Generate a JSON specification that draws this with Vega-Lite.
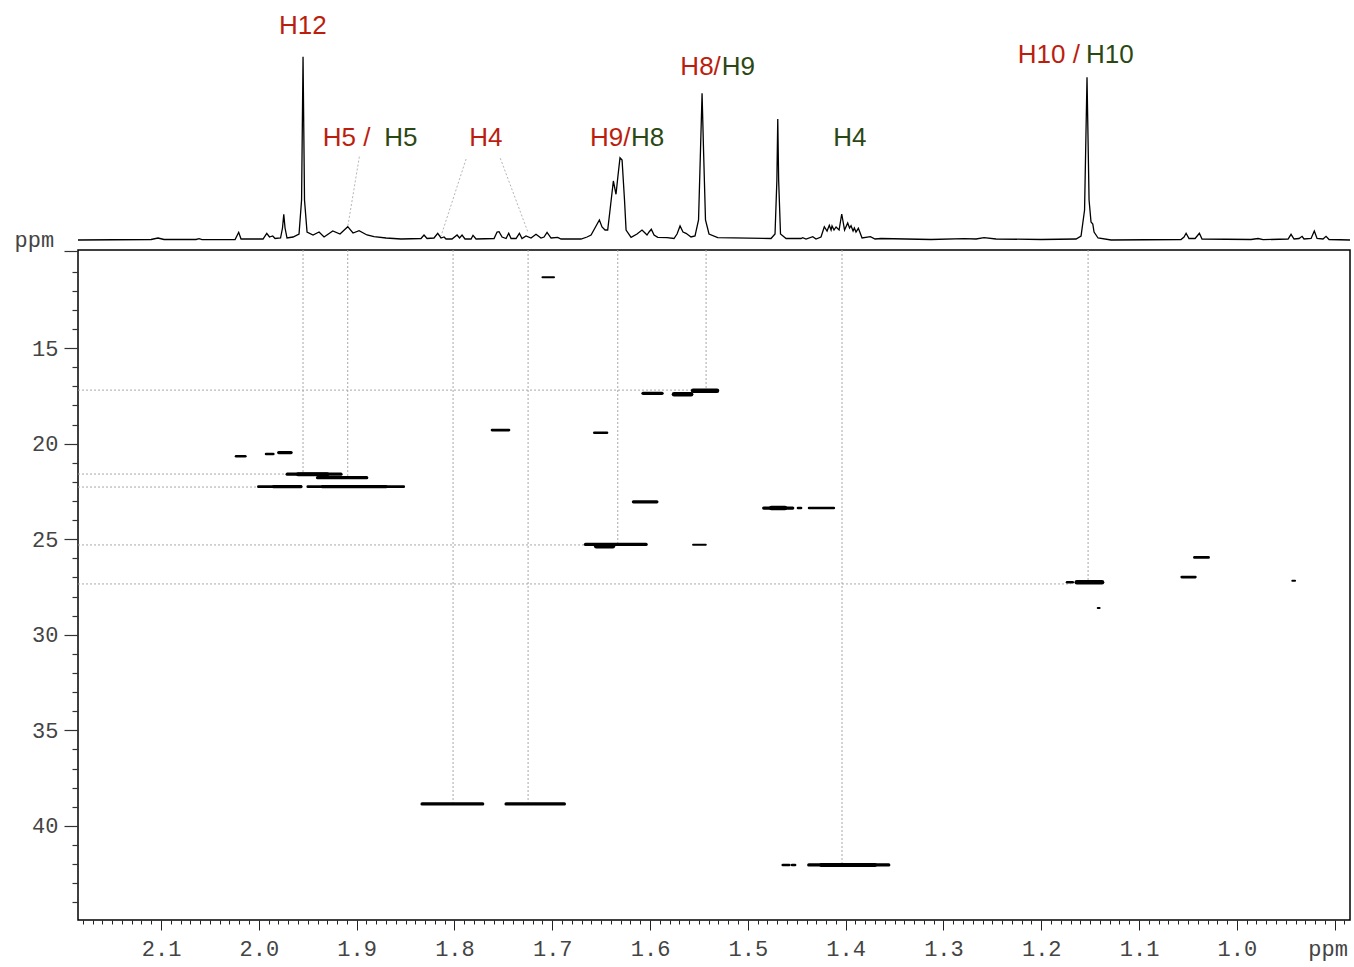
{
  "$schema": "https://vega.github.io/schema/vega-lite/v6.json",
  "padding": {"left": 13, "top": 0, "right": 2, "bottom": 6},
  "bounds": "flush",
  "spacing": 5,
  "background": "white",
  "config": {"font": "Liberation Sans"},
  "datasets": {
    "spectrum": [
      {"x":2.1849,"i":0},{"x":2.1102,"i":0.5},{"x":2.1031,"i":2},{"x":2.0969,"i":0.5},{"x":2.0642,"i":0.5},{"x":2.0611,"i":1.3},{"x":2.0581,"i":0.3},{"x":2.0243,"i":0.5},{"x":2.0206,"i":7.7},{"x":2.0182,"i":1},
      {"x":1.9957,"i":1},{"x":1.9919,"i":6.7},{"x":1.9891,"i":3},{"x":1.9858,"i":4},{"x":1.9834,"i":1.5},{"x":1.9778,"i":2},{"x":1.9758,"i":12},{"x":1.9745,"i":25.7},{"x":1.9732,"i":12},{"x":1.9712,"i":2},
      {"x":1.9650,"i":3},{"x":1.9589,"i":6},{"x":1.9563,"i":40},{"x":1.9548,"i":183.3},{"x":1.9533,"i":40},{"x":1.9507,"i":8},{"x":1.9446,"i":5},{"x":1.9384,"i":8},{"x":1.9333,"i":3},{"x":1.9244,"i":9},
      {"x":1.9170,"i":6},{"x":1.9091,"i":13.3},{"x":1.9037,"i":7},{"x":1.8975,"i":9.3},{"x":1.8894,"i":5},{"x":1.8822,"i":3.3},{"x":1.8699,"i":2},{"x":1.8546,"i":1},{"x":1.8342,"i":1.5},{"x":1.8311,"i":5},
      {"x":1.8280,"i":1.5},{"x":1.8209,"i":2},{"x":1.8171,"i":6.7},{"x":1.8137,"i":2},{"x":1.8106,"i":3},{"x":1.8086,"i":1},{"x":1.8025,"i":1},{"x":1.7973,"i":5},{"x":1.7948,"i":2},{"x":1.7922,"i":5},
      {"x":1.7892,"i":1},{"x":1.7830,"i":1},{"x":1.7810,"i":4.7},{"x":1.7779,"i":1},{"x":1.7595,"i":1.5},{"x":1.7564,"i":8},{"x":1.7544,"i":8.3},{"x":1.7513,"i":3},{"x":1.7472,"i":1.5},{"x":1.7445,"i":6.7},
      {"x":1.7421,"i":1.5},{"x":1.7370,"i":1.5},{"x":1.7336,"i":6.7},{"x":1.7309,"i":1.5},{"x":1.7268,"i":4},{"x":1.7217,"i":2},{"x":1.7166,"i":5.7},{"x":1.7115,"i":2},{"x":1.7084,"i":3},{"x":1.7053,"i":7.7},
      {"x":1.7012,"i":2},{"x":1.6944,"i":2.7},{"x":1.6910,"i":1},{"x":1.6706,"i":1},{"x":1.6644,"i":3},{"x":1.6603,"i":5},{"x":1.6552,"i":14},{"x":1.6518,"i":20},{"x":1.6491,"i":13},{"x":1.6460,"i":10},
      {"x":1.6433,"i":10},{"x":1.6409,"i":30},{"x":1.6375,"i":59},{"x":1.6348,"i":45.7},{"x":1.6327,"i":65},{"x":1.6307,"i":82.3},{"x":1.6286,"i":80},{"x":1.6261,"i":40},{"x":1.6245,"i":10},{"x":1.6194,"i":2.7},
      {"x":1.6133,"i":6},{"x":1.6082,"i":10},{"x":1.6051,"i":7},{"x":1.6031,"i":5},{"x":1.6010,"i":8},{"x":1.5987,"i":10.7},{"x":1.5959,"i":5},{"x":1.5921,"i":2.7},{"x":1.5826,"i":2.3},{"x":1.5755,"i":1.5},
      {"x":1.5724,"i":6},{"x":1.5693,"i":14},{"x":1.5663,"i":8},{"x":1.5632,"i":6.7},{"x":1.5581,"i":3},{"x":1.5540,"i":4},{"x":1.5504,"i":20},{"x":1.5484,"i":90},{"x":1.5468,"i":146.7},{"x":1.5453,"i":90},
      {"x":1.5433,"i":20},{"x":1.5397,"i":6},{"x":1.5308,"i":2.3},{"x":1.4763,"i":1.5},{"x":1.4722,"i":6},{"x":1.4703,"i":60},{"x":1.4694,"i":121},{"x":1.4685,"i":60},{"x":1.4666,"i":6},{"x":1.4609,"i":1.5},
      {"x":1.4456,"i":1.5},{"x":1.4439,"i":2.3},{"x":1.4405,"i":1},{"x":1.4336,"i":3.3},{"x":1.4303,"i":1},{"x":1.4252,"i":3},{"x":1.4218,"i":13.3},{"x":1.4190,"i":9},{"x":1.4167,"i":14.7},{"x":1.4149,"i":10},
      {"x":1.4139,"i":14},{"x":1.4119,"i":10},{"x":1.4098,"i":13},{"x":1.4067,"i":10},{"x":1.4040,"i":26},{"x":1.4011,"i":10},{"x":1.3979,"i":17},{"x":1.3960,"i":12},{"x":1.3945,"i":14.3},{"x":1.3924,"i":9},
      {"x":1.3911,"i":12},{"x":1.3894,"i":8},{"x":1.3870,"i":11.7},{"x":1.3832,"i":2},{"x":1.3747,"i":3.3},{"x":1.3699,"i":1},{"x":1.3638,"i":1.5},{"x":1.3127,"i":0.5},{"x":1.2789,"i":1.3},{"x":1.2667,"i":1},
      {"x":1.2585,"i":2.3},{"x":1.2462,"i":1},{"x":1.2002,"i":0.5},{"x":1.1644,"i":1},{"x":1.1593,"i":4},{"x":1.1557,"i":30},{"x":1.1532,"i":162.7},{"x":1.1511,"i":40},{"x":1.1491,"i":18},{"x":1.1473,"i":16},
      {"x":1.1460,"i":8},{"x":1.1419,"i":2},{"x":1.1286,"i":0},{"x":1.0571,"i":0.5},{"x":1.0540,"i":3},{"x":1.0519,"i":6.7},{"x":1.0489,"i":1.5},{"x":1.0427,"i":1.5},{"x":1.0383,"i":6.7},{"x":1.0356,"i":1},
      {"x":0.9855,"i":0.5},{"x":0.9783,"i":1.5},{"x":0.9732,"i":0.3},{"x":0.9476,"i":1},{"x":0.9446,"i":5.7},{"x":0.9415,"i":1},{"x":0.9364,"i":1.5},{"x":0.9333,"i":3.7},{"x":0.9313,"i":1},{"x":0.9241,"i":1.5},
      {"x":0.9208,"i":9},{"x":0.9180,"i":1.5},{"x":0.9119,"i":1},{"x":0.9088,"i":3.7},{"x":0.9057,"i":0.5},{"x":0.8843,"i":0}
    ],
    "labels": [
      {"x":1.9793,"i":206,"label":"H12","s":"r"},
      {"x":1.9347,"i":94.3,"label":"H5 /","s":"r"},
      {"x":1.8717,"i":94.3,"label":"H5","s":"g"},
      {"x":1.7848,"i":94,"label":"H4","s":"r"},
      {"x":1.6613,"i":94,"label":"H9/","s":"r"},
      {"x":1.6194,"i":94,"label":"H8","s":"g"},
      {"x":1.5690,"i":165,"label":"H8/","s":"r"},
      {"x":1.5267,"i":165,"label":"H9","s":"g"},
      {"x":1.4126,"i":94,"label":"H4","s":"g"},
      {"x":1.2240,"i":176.7,"label":"H10 /","s":"r"},
      {"x":1.1542,"i":176.7,"label":"H10","s":"g"}
    ],
    "leaders": [
      {"x1":1.8972,"i1":83.3,"x2":1.9091,"i2":13.3},
      {"x1":1.7881,"i1":81,"x2":1.8137,"i2":4},
      {"x1":1.7531,"i1":81.7,"x2":1.7250,"i2":8.3}
    ],
    "vguides": [
      {"x":1.9548,"c1":9.87,"c2":21.6},
      {"x":1.9091,"c1":9.87,"c2":21.78},
      {"x":1.8014,"c1":9.87,"c2":38.85},
      {"x":1.7247,"c1":9.87,"c2":38.85},
      {"x":1.6330,"c1":9.87,"c2":25.27},
      {"x":1.5427,"c1":9.87,"c2":17.23},
      {"x":1.4037,"c1":9.87,"c2":42.04},
      {"x":1.1521,"c1":9.87,"c2":27.25}
    ],
    "hguides": [
      {"c":17.2,"x1":2.1849,"x2":1.5500},
      {"c":21.59,"x1":2.1849,"x2":1.9710},
      {"c":22.27,"x1":2.1849,"x2":2.0005},
      {"c":25.30,"x1":2.1849,"x2":1.6660},
      {"c":27.34,"x1":2.1849,"x2":1.1700}
    ],
    "peaks": [
      {"x1":1.7100,"x2":1.6982,"c":11.29,"w":1},
      {"x1":1.6072,"x2":1.5877,"c":17.37,"w":2},
      {"x1":1.5755,"x2":1.5580,"c":17.42,"w":3},
      {"x1":1.5560,"x2":1.5315,"c":17.23,"w":3},
      {"x1":1.6570,"x2":1.6440,"c":19.43,"w":1.5},
      {"x1":1.6170,"x2":1.5930,"c":23.04,"w":2},
      {"x1":1.6660,"x2":1.6040,"c":25.27,"w":2},
      {"x1":1.6550,"x2":1.6380,"c":25.37,"w":3},
      {"x1":1.5560,"x2":1.5430,"c":25.29,"w":1},
      {"x1":1.4838,"x2":1.4541,"c":23.37,"w":2},
      {"x1":1.4760,"x2":1.4620,"c":23.37,"w":3},
      {"x1":1.4487,"x2":1.4456,"c":23.37,"w":1.5},
      {"x1":1.4374,"x2":1.4121,"c":23.37,"w":1.5},
      {"x1":2.0233,"x2":2.0138,"c":20.66,"w":1.5},
      {"x1":1.9926,"x2":1.9852,"c":20.54,"w":1.5},
      {"x1":1.9797,"x2":1.9670,"c":20.47,"w":2},
      {"x1":1.9710,"x2":1.9160,"c":21.6,"w":2},
      {"x1":1.9600,"x2":1.9300,"c":21.6,"w":2.5},
      {"x1":1.9400,"x2":1.8897,"c":21.78,"w":2},
      {"x1":2.0005,"x2":1.9569,"c":22.25,"w":1.5},
      {"x1":1.9850,"x2":1.9570,"c":22.25,"w":2},
      {"x1":1.9500,"x2":1.8518,"c":22.25,"w":1.5},
      {"x1":1.9350,"x2":1.8700,"c":22.25,"w":2},
      {"x1":1.7616,"x2":1.7442,"c":19.29,"w":1.5},
      {"x1":1.8331,"x2":1.7711,"c":38.85,"w":2},
      {"x1":1.7472,"x2":1.6876,"c":38.85,"w":2},
      {"x1":1.4643,"x2":1.4576,"c":42.04,"w":1.5},
      {"x1":1.4548,"x2":1.4517,"c":42.04,"w":1.5},
      {"x1":1.4377,"x2":1.3559,"c":42.04,"w":2},
      {"x1":1.4250,"x2":1.3700,"c":42.04,"w":2.5},
      {"x1":1.1736,"x2":1.1678,"c":27.25,"w":1.5},
      {"x1":1.1637,"x2":1.1378,"c":27.25,"w":3},
      {"x1":1.1422,"x2":1.1403,"c":28.6,"w":1},
      {"x1":1.0434,"x2":1.0289,"c":25.95,"w":1.5},
      {"x1":1.0564,"x2":1.0424,"c":26.98,"w":1.5},
      {"x1":0.9433,"x2":0.9405,"c":27.17,"w":1}
    ]
  },
  "vconcat": [
    {
      "width": 1272,
      "height": 245,
      "view": {"stroke": null, "fill": "white"},
      "layer": [
        {
          "data": {"name": "leaders"},
          "mark": {"type": "rule", "color": "#b5b5b5", "strokeDash": [2, 2], "strokeWidth": 1},
          "encoding": {
            "x": {"field": "x1", "type": "quantitative", "axis": null, "scale": {"domain": [0.8843, 2.1849], "reverse": true, "nice": false, "zero": false}},
            "x2": {"field": "x2"},
            "y": {"field": "i1", "type": "quantitative", "axis": null, "scale": {"domain": [-5, 240], "nice": false, "zero": false}},
            "y2": {"field": "i2"}
          }
        },
        {
          "data": {"name": "spectrum"},
          "mark": {"type": "line", "color": "black", "strokeWidth": 1.3, "clip": false},
          "encoding": {
            "x": {"field": "x", "type": "quantitative", "axis": null, "scale": {"domain": [0.8843, 2.1849], "reverse": true, "nice": false, "zero": false}},
            "y": {"field": "i", "type": "quantitative", "axis": null, "scale": {"domain": [-5, 240], "nice": false, "zero": false}}
          }
        },
        {
          "data": {"name": "labels"},
          "mark": {"type": "text", "align": "left", "baseline": "alphabetic", "fontSize": 26, "font": "Liberation Sans"},
          "encoding": {
            "x": {"field": "x", "type": "quantitative", "axis": null, "scale": {"domain": [0.8843, 2.1849], "reverse": true, "nice": false, "zero": false}},
            "y": {"field": "i", "type": "quantitative", "axis": null, "scale": {"domain": [-5, 240], "nice": false, "zero": false}},
            "text": {"field": "label"},
            "color": {"field": "s", "type": "nominal", "legend": null, "scale": {"domain": ["r", "g"], "range": ["#BC1E0E", "#2B4814"]}}
          }
        }
      ]
    },
    {
      "width": 1272,
      "height": 670,
      "view": {"stroke": "black", "strokeWidth": 1.5},
      "resolve": {"axis": {"x": "independent", "y": "independent"}},
      "layer": [
        {
          "data": {"name": "vguides"},
          "mark": {"type": "rule", "color": "#a8a8a8", "strokeDash": [2, 2], "strokeWidth": 1},
          "encoding": {
            "x": {
              "field": "x", "type": "quantitative",
              "scale": {"domain": [0.8843, 2.1849], "reverse": true, "nice": false, "zero": false},
              "axis": {
                "values": [0.89,0.91,0.92,0.93,0.94,0.95,0.96,0.97,0.98,0.99,1.01,1.02,1.03,1.04,1.05,1.06,1.07,1.08,1.09,1.11,1.12,1.13,1.14,1.15,1.16,1.17,1.18,1.19,1.21,1.22,1.23,1.24,1.25,1.26,1.27,1.28,1.29,1.31,1.32,1.33,1.34,1.35,1.36,1.37,1.38,1.39,1.41,1.42,1.43,1.44,1.45,1.46,1.47,1.48,1.49,1.51,1.52,1.53,1.54,1.55,1.56,1.57,1.58,1.59,1.61,1.62,1.63,1.64,1.65,1.66,1.67,1.68,1.69,1.71,1.72,1.73,1.74,1.75,1.76,1.77,1.78,1.79,1.81,1.82,1.83,1.84,1.85,1.86,1.87,1.88,1.89,1.91,1.92,1.93,1.94,1.95,1.96,1.97,1.98,1.99,2.01,2.02,2.03,2.04,2.05,2.06,2.07,2.08,2.09,2.11,2.12,2.13,2.14,2.15,2.16,2.17,2.18],
                "orient": "bottom",
                "domain": false,
                "grid": false,
                "labels": false,
                "tickColor": "#222",
                "tickWidth": 1,
                "tickSize": 4,
                "title": null
              }
            },
            "y": {
              "field": "c1", "type": "quantitative",
              "scale": {"domain": [9.87, 44.92], "reverse": true, "nice": false, "zero": false},
              "axis": {
                "values": [11,12,13,14,16,17,18,19,21,22,23,24,26,27,28,29,31,32,33,34,36,37,38,39,41,42,43,44],
                "orient": "left",
                "domain": false,
                "grid": false,
                "labels": false,
                "tickColor": "#333",
                "tickWidth": 1.2,
                "tickSize": 6,
                "title": null
              }
            },
            "y2": {"field": "c2"}
          }
        },
        {
          "data": {"name": "hguides"},
          "mark": {"type": "rule", "color": "#a8a8a8", "strokeDash": [2, 2], "strokeWidth": 1},
          "encoding": {
            "x": {
              "field": "x1", "type": "quantitative",
              "axis": {
                "values": [1.0,1.1,1.2,1.3,1.4,1.5,1.6,1.7,1.8,1.9,2.0,2.1],
                "orient": "bottom",
                "domain": false,
                "grid": false,
                "tickColor": "#222",
                "tickWidth": 1,
                "tickSize": 10,
                "labelExpr": "format(datum.value, '.1f')",
                "labelFont": "Liberation Mono",
                "labelFontSize": 22,
                "labelColor": "#444",
                "labelPadding": 8,
                "labelOverlap": false,
                "labelFlush": false,
                "labelBound": false,
                "title": null
              }
            },
            "x2": {"field": "x2"},
            "y": {
              "field": "c", "type": "quantitative",
              "axis": {
                "values": [9.9,15,20,25,30,35,40],
                "orient": "left",
                "domain": false,
                "grid": false,
                "tickColor": "#333",
                "tickWidth": 1.2,
                "tickSize": 14,
                "labelExpr": "datum.value < 10 ? '' : datum.label",
                "labelFont": "Liberation Mono",
                "labelFontSize": 22,
                "labelColor": "#444",
                "labelPadding": 6,
                "labelOverlap": false,
                "labelBound": false,
                "title": "ppm",
                "titleAngle": 0,
                "titleX": -64,
                "titleY": -4,
                "titleAlign": "left",
                "titleBaseline": "alphabetic",
                "titleFont": "Liberation Mono",
                "titleFontSize": 22,
                "titleFontWeight": "normal",
                "titleColor": "#444"
              }
            }
          }
        },
        {
          "data": {"name": "peaks"},
          "mark": {"type": "rule", "color": "black", "strokeCap": "round"},
          "encoding": {
            "x": {
              "field": "x1", "type": "quantitative",
              "axis": {
                "values": [0.9],
                "orient": "bottom",
                "domain": false,
                "grid": false,
                "tickColor": "#222",
                "tickWidth": 1,
                "tickSize": 10,
                "labelExpr": "'ppm'",
                "labelFont": "Liberation Mono",
                "labelFontSize": 22,
                "labelColor": "#444",
                "labelPadding": 8,
                "labelOffset": -7,
                "labelOverlap": false,
                "labelFlush": false,
                "labelBound": false,
                "title": null
              }
            },
            "x2": {"field": "x2"},
            "y": {"field": "c", "type": "quantitative", "axis": null},
            "strokeWidth": {"field": "w", "type": "quantitative", "legend": null, "scale": {"domain": [1, 3], "range": [2, 4.5]}}
          }
        }
      ]
    }
  ]
}
